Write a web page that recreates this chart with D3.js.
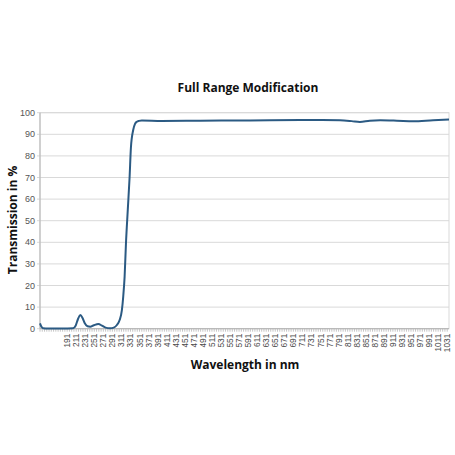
<!DOCTYPE html>
<html>
<head>
<meta charset="utf-8">
<script src="https://cdn.jsdelivr.net/npm/d3@7"></script>
<style>
  body { margin: 0; background: #fff; overflow: hidden; }
  svg { display: block; overflow: visible; }
</style>
</head>
<body>
<div id="chart"></div>
<script>
// transmission curve
const wavelengths = [131, 134, 138, 150, 180, 204, 210, 215, 220, 225, 230, 236, 242, 250, 260, 268, 276, 286, 294, 301, 307, 312, 315, 318, 321, 325, 329, 332, 337, 341, 345, 350, 356, 400, 485, 595, 706, 794, 820, 838, 860, 883, 920, 956, 1000, 1035];
const transmission = [2.5, 1.0, 0.2, 0.1, 0.1, 0.2, 1.5, 4.5, 6.3, 5.0, 2.5, 1.1, 0.9, 1.6, 2.2, 1.4, 0.5, 0.2, 0.5, 1.7, 4.0, 8.6, 15, 24, 39.5, 55, 70, 84, 92, 94.8, 95.8, 96.2, 96.4, 96.2, 96.3, 96.4, 96.6, 96.5, 96.1, 95.7, 96.3, 96.5, 96.3, 96.0, 96.5, 96.8];

const yTicks = d3.range(0, 101, 10);
const xTickLabels = d3.range(191, 1032, 20);
const minorTicks = d3.range(131, 1036, 5);

const width = 455, height = 455;
const margin = { top: 112.7, right: 6, bottom: 126.3, left: 40 };
const innerWidth = width - margin.left - margin.right;
const innerHeight = height - margin.top - margin.bottom;

const data = wavelengths.map((w, i) => ({ w, t: transmission[i] }));

const svg = d3.select("#chart").append("svg")
    .attr("width", width)
    .attr("height", height);

const xScale = d3.scaleLinear()
    .domain([131, 1035])
    .range([0, innerWidth]);

const yScale = d3.scaleLinear()
    .domain([0, 100])
    .range([innerHeight, 0]);

const innerChart = svg.append("g")
    .attr("transform", `translate(${margin.left}, ${margin.top})`);

// horizontal grid
innerChart.selectAll(".grid")
    .data(yTicks)
    .join("line")
        .attr("class", "grid")
        .attr("x1", -3)
        .attr("x2", innerWidth)
        .attr("y1", d => yScale(d))
        .attr("y2", d => yScale(d))
        .attr("stroke", "#d9d9d9")
        .attr("stroke-width", 1);

// frame
innerChart.append("rect")
    .attr("width", innerWidth)
    .attr("height", innerHeight)
    .attr("fill", "none")
    .attr("stroke", "#d9d9d9");

// left axis line
innerChart.append("line")
    .attr("x1", 0).attr("x2", 0)
    .attr("y1", 0).attr("y2", innerHeight)
    .attr("stroke", "#b3b3b3");

// y tick labels
innerChart.selectAll(".ylabel")
    .data(yTicks)
    .join("text")
        .attr("class", "ylabel")
        .attr("x", -5)
        .attr("y", d => yScale(d) + 3.2)
        .attr("text-anchor", "end")
        .attr("font-family", "Liberation Sans, Arial, sans-serif")
        .attr("font-size", 9)
        .attr("fill", "#555")
        .text(d => d);

// dense minor ticks along the bottom
innerChart.selectAll(".minor")
    .data(minorTicks)
    .join("line")
        .attr("class", "minor")
        .attr("x1", d => xScale(d))
        .attr("x2", d => xScale(d))
        .attr("y1", innerHeight)
        .attr("y2", innerHeight + 3)
        .attr("stroke", "#b8b8b8")
        .attr("stroke-width", 0.8);

innerChart.append("line")
    .attr("x1", 0).attr("x2", innerWidth)
    .attr("y1", innerHeight).attr("y2", innerHeight)
    .attr("stroke", "#b3b3b3");

// x tick labels, rotated
innerChart.selectAll(".xlabel")
    .data(xTickLabels)
    .join("text")
        .attr("class", "xlabel")
        .attr("transform", d => `translate(${xScale(d) + 3}, ${innerHeight + 5}) rotate(-90)`)
        .attr("text-anchor", "end")
        .attr("font-family", "Liberation Sans, Arial, sans-serif")
        .attr("font-size", 8.3)
        .attr("fill", "#4a4a4a")
        .text(d => d);

// curve
const line = d3.line()
    .x(d => xScale(d.w))
    .y(d => yScale(d.t))
    .curve(d3.curveMonotoneX);

innerChart.append("path")
    .datum(data)
    .attr("d", line)
    .attr("fill", "none")
    .attr("stroke", "#2b5a83")
    .attr("stroke-width", 2);

// titles
svg.append("text")
    .attr("x", 248)
    .attr("y", 92)
    .attr("text-anchor", "middle")
    .attr("font-family", "Open Sans, sans-serif")
    .attr("font-weight", 700)
    .attr("font-size", 12)
    .attr("fill", "#111")
    .text("Full Range Modification");

svg.append("text")
    .attr("transform", "translate(17, 220) rotate(-90)")
    .attr("text-anchor", "middle")
    .attr("font-family", "Open Sans, sans-serif")
    .attr("font-weight", 700)
    .attr("font-size", 12)
    .attr("fill", "#111")
    .text("Transmission in %");

svg.append("text")
    .attr("x", 245)
    .attr("y", 369)
    .attr("text-anchor", "middle")
    .attr("font-family", "Open Sans, sans-serif")
    .attr("font-weight", 700)
    .attr("font-size", 12)
    .attr("fill", "#111")
    .text("Wavelength in nm");
</script>
</body>
</html>
